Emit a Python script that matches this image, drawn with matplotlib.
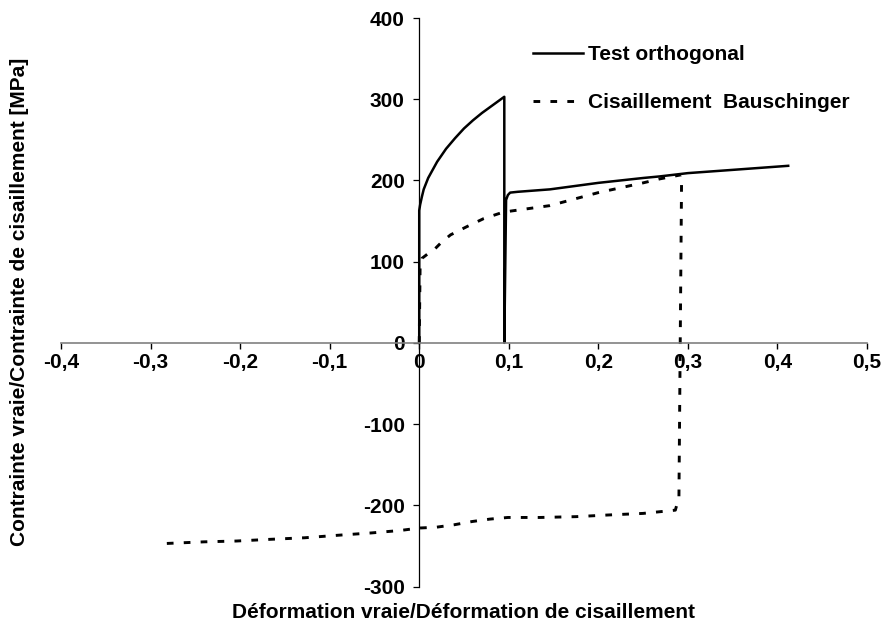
import matplotlib
matplotlib.use("Agg")
import matplotlib.pyplot as plt

plt.rcParams['font.family'] = ['Liberation Sans', 'DejaVu Sans']
plt.rcParams['font.weight'] = 'bold'

# Test orthogonal (solid)
ortho_x = [0.0, 0.0, 0.001, 0.003, 0.005, 0.01, 0.02, 0.03, 0.04, 0.05, 0.06,
           0.07, 0.08, 0.09, 0.095, 0.095, 0.097, 0.099, 0.1015, 0.11, 0.146,
           0.2, 0.25, 0.269, 0.3, 0.35, 0.412]
ortho_y = [0, 163, 170, 180, 189, 203, 223, 239, 252, 264, 274,
           283, 291, 299, 303, 0, 176, 182, 185, 186, 189,
           197, 203, 205, 209, 213, 218]

# Cisaillement Bauschinger (dashed)
bau_x = [0.0, 0.001, 0.003, 0.01, 0.016, 0.025, 0.035, 0.053, 0.072, 0.094,
         0.12, 0.146, 0.2, 0.25, 0.269, 0.293, 0.29, 0.286, 0.25, 0.21, 0.175,
         0.135, 0.099, 0.079, 0.059, 0.039, 0.019, 0.0, -0.021, -0.053, -0.092,
         -0.128, -0.168, -0.204, -0.24, -0.282]
bau_y = [0, 95, 104, 110, 114, 124, 133, 143, 153, 161,
         165, 169, 185, 197, 202, 207, -190, -206, -210, -212, -214,
         -215, -215, -217, -220, -224, -227, -228, -231, -234, -237,
         -240, -242, -244, -245, -247]

x_ticks = [-0.4, -0.3, -0.2, -0.1, 0.0, 0.1, 0.2, 0.3, 0.4, 0.5]
x_tick_labels = ['-0,4', '-0,3', '-0,2', '-0,1', '0', '0,1', '0,2', '0,3', '0,4', '0,5']
y_ticks = [-300, -200, -100, 0, 100, 200, 300, 400]
y_tick_labels = ['-300', '-200', '-100', '0', '100', '200', '300', '400']

series_names = ['Test orthogonal', 'Cisaillement  Bauschinger']

FS = 15

fig = plt.figure(figsize=(8.83, 6.31), dpi=100)
ax = fig.add_axes([61/883, 1-586.5/631, (867-61)/883, (586.5-18)/631])

ax.plot(ortho_x, ortho_y, color='black', lw=1.8, solid_joinstyle='round',
        label=series_names[0], clip_on=False)
ax.plot(bau_x, bau_y, color='black', lw=2.1, linestyle=(0, (2.3, 3.5)),
        label=series_names[1], clip_on=False)

ax.set_xlim(-0.4, 0.5)
ax.set_ylim(-300, 400)

for s in ['top', 'right']:
    ax.spines[s].set_visible(False)
ax.spines['left'].set_position(('data', 0))
ax.spines['bottom'].set_position(('data', 0))
ax.spines['bottom'].set_color('#808080')
ax.spines['bottom'].set_linewidth(1.2)
ax.spines['left'].set_color('black')
ax.spines['left'].set_linewidth(0.9)

ax.set_xticks(x_ticks)
ax.set_xticklabels(x_tick_labels)
ax.set_yticks(y_ticks)
ax.set_yticklabels(y_tick_labels)
ax.tick_params(axis='x', direction='out', length=4, width=1.0, color='black',
               labelsize=FS, pad=3)
ax.tick_params(axis='y', direction='out', length=4, width=0.9, color='black',
               labelsize=FS, pad=6.5)
for lab in ax.get_xticklabels() + ax.get_yticklabels():
    lab.set_fontweight('bold')

fig.text(464/883, 1-613/631, 'Déformation vraie/Déformation de cisaillement',
         ha='center', va='center', fontsize=FS, fontweight='bold')
fig.text(20/883, 1-302/631, 'Contrainte vraie/Contrainte de cisaillement [MPa]',
         ha='center', va='center', rotation=90, fontsize=FS, fontweight='bold')

leg = ax.legend(loc='upper left', bbox_to_anchor=(533/883, 1-45/631),
                bbox_transform=fig.transFigure, frameon=False,
                prop={'weight': 'bold', 'size': FS}, handlelength=2.4,
                handletextpad=0.24, labelspacing=1.4, borderaxespad=0,
                borderpad=0)

fig.savefig('out.png', dpi=100)
